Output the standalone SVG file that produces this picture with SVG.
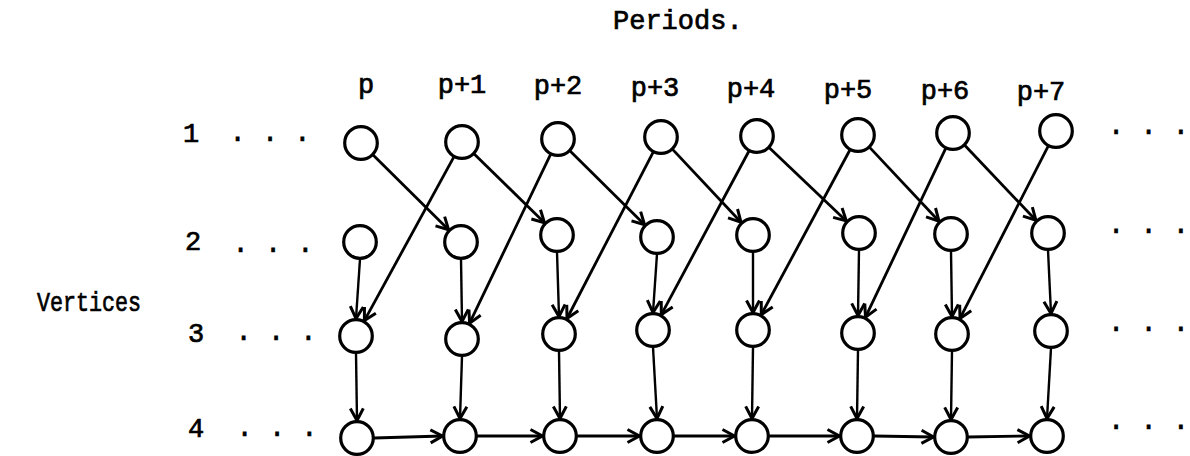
<svg xmlns="http://www.w3.org/2000/svg" width="1190" height="456" viewBox="0 0 1190 456">
<style>
.n{fill:#fff;stroke:#000;stroke-width:3.2}
.e{fill:none;stroke:#000;stroke-width:2.8;marker-end:url(#ah)}
.v{stroke-width:2.4}
.t{font-family:"Liberation Mono","Courier New",monospace;font-size:27px;fill:#000;stroke:#000;stroke-width:0.7}
.c{text-anchor:middle}
</style>
<defs>
<marker id="ah" markerUnits="userSpaceOnUse" markerWidth="20" markerHeight="20" refX="0" refY="0" viewBox="-14 -10 18 20" orient="auto">
<path d="M-12,-6.5 L0,0 L-12,6.5" fill="none" stroke="#000" stroke-width="3" stroke-linejoin="miter"/>
</marker>
</defs>
<rect width="1190" height="456" fill="#fff"/>
<g id="labels" class="t">
<text x="613" y="29">Periods.</text>
<text x="37" y="311" textLength="104" lengthAdjust="spacingAndGlyphs">Vertices</text>
<text class="c" x="366" y="93">p</text>
<text class="c" x="462" y="93">p+1</text>
<text class="c" x="558" y="94">p+2</text>
<text class="c" x="655" y="96">p+3</text>
<text class="c" x="751" y="97">p+4</text>
<text class="c" x="848" y="98">p+5</text>
<text class="c" x="945" y="99">p+6</text>
<text class="c" x="1041" y="100">p+7</text>
<text class="c" x="191" y="142">1</text>
<text class="c" x="193" y="250">2</text>
<text class="c" x="196" y="342">3</text>
<text class="c" x="196" y="437">4</text>
<text class="c" x="270" y="141">. . .</text>
<text class="c" x="273" y="252">. . .</text>
<text class="c" x="276" y="340">. . .</text>
<text class="c" x="277" y="436">. . .</text>
<text x="1189" y="134" text-anchor="end">. . .</text>
<text x="1189" y="233" text-anchor="end">. . .</text>
<text x="1189" y="331" text-anchor="end">. . .</text>
<text x="1189" y="429" text-anchor="end">. . .</text>
</g>
<g id="connectors">
<line class="e" x1="373.1" y1="155.0" x2="448.6" y2="229.7"/>
<line class="e" x1="474.2" y1="153.9" x2="544.5" y2="222.8"/>
<line class="e" x1="570.1" y1="151.0" x2="644.6" y2="224.7"/>
<line class="e" x1="672.6" y1="149.4" x2="741.0" y2="222.2"/>
<line class="e" x1="769.3" y1="147.7" x2="846.3" y2="220.9"/>
<line class="e" x1="869.6" y1="147.4" x2="939.0" y2="221.2"/>
<line class="e" x1="964.7" y1="145.3" x2="1035.9" y2="220.3"/>
<line class="e" x1="453.9" y1="156.9" x2="364.4" y2="320.6"/>
<line class="e" x1="550.6" y1="154.3" x2="469.6" y2="323.2"/>
<line class="e" x1="653.2" y1="152.1" x2="567.0" y2="318.5"/>
<line class="e" x1="749.0" y1="151.0" x2="661.3" y2="314.6"/>
<line class="e" x1="849.9" y1="150.0" x2="761.3" y2="314.6"/>
<line class="e" x1="945.7" y1="148.4" x2="865.5" y2="317.2"/>
<line class="e" x1="1048.2" y1="146.1" x2="960.0" y2="318.4"/>
<line class="e v" x1="360" y1="259" x2="356" y2="318.5"/>
<line class="e v" x1="461" y1="259" x2="462" y2="321.5"/>
<line class="e v" x1="557" y1="252" x2="559" y2="316.5"/>
<line class="e v" x1="657" y1="254" x2="653" y2="312.5"/>
<line class="e v" x1="753" y1="252" x2="753" y2="312.5"/>
<line class="e v" x1="859" y1="250" x2="858" y2="315.5"/>
<line class="e v" x1="951" y1="251" x2="952" y2="316.5"/>
<line class="e v" x1="1048" y1="250" x2="1051" y2="313.5"/>
<line class="e v" x1="356" y1="353" x2="357" y2="420.5"/>
<line class="e v" x1="462" y1="356" x2="460" y2="418.5"/>
<line class="e v" x1="559" y1="351" x2="560" y2="418.5"/>
<line class="e v" x1="653" y1="347" x2="657" y2="418.5"/>
<line class="e v" x1="753" y1="347" x2="752" y2="418.5"/>
<line class="e v" x1="858" y1="350" x2="857" y2="418.5"/>
<line class="e v" x1="952" y1="351" x2="951" y2="419.5"/>
<line class="e v" x1="1051" y1="348" x2="1047" y2="418.5"/>
<line class="e" x1="374" y1="438" x2="442.5" y2="436"/>
<line class="e" x1="477" y1="436" x2="542.5" y2="436"/>
<line class="e" x1="577" y1="436" x2="639.5" y2="436"/>
<line class="e" x1="674" y1="436" x2="734.5" y2="436"/>
<line class="e" x1="769" y1="436" x2="839.5" y2="436"/>
<line class="e" x1="874" y1="436" x2="933.5" y2="437"/>
<line class="e" x1="968" y1="437" x2="1029.5" y2="436"/>
</g>
<g id="v1p0"><circle class="n" cx="361" cy="143" r="16.3"/></g>
<g id="v1p1"><circle class="n" cx="462" cy="142" r="16.3"/></g>
<g id="v1p2"><circle class="n" cx="558" cy="139" r="16.3"/></g>
<g id="v1p3"><circle class="n" cx="661" cy="137" r="16.3"/></g>
<g id="v1p4"><circle class="n" cx="757" cy="136" r="16.3"/></g>
<g id="v1p5"><circle class="n" cx="858" cy="135" r="16.3"/></g>
<g id="v1p6"><circle class="n" cx="953" cy="133" r="16.3"/></g>
<g id="v1p7"><circle class="n" cx="1056" cy="131" r="16.3"/></g>
<g id="v2p0"><circle class="n" cx="360" cy="242" r="16.3"/></g>
<g id="v2p1"><circle class="n" cx="461" cy="242" r="16.3"/></g>
<g id="v2p2"><circle class="n" cx="557" cy="235" r="16.3"/></g>
<g id="v2p3"><circle class="n" cx="657" cy="237" r="16.3"/></g>
<g id="v2p4"><circle class="n" cx="753" cy="235" r="16.3"/></g>
<g id="v2p5"><circle class="n" cx="859" cy="233" r="16.3"/></g>
<g id="v2p6"><circle class="n" cx="951" cy="234" r="16.3"/></g>
<g id="v2p7"><circle class="n" cx="1048" cy="233" r="16.3"/></g>
<g id="v3p0"><circle class="n" cx="356" cy="336" r="16.3"/></g>
<g id="v3p1"><circle class="n" cx="462" cy="339" r="16.3"/></g>
<g id="v3p2"><circle class="n" cx="559" cy="334" r="16.3"/></g>
<g id="v3p3"><circle class="n" cx="653" cy="330" r="16.3"/></g>
<g id="v3p4"><circle class="n" cx="753" cy="330" r="16.3"/></g>
<g id="v3p5"><circle class="n" cx="858" cy="333" r="16.3"/></g>
<g id="v3p6"><circle class="n" cx="952" cy="334" r="16.3"/></g>
<g id="v3p7"><circle class="n" cx="1051" cy="331" r="16.3"/></g>
<g id="v4p0"><circle class="n" cx="357" cy="438" r="16.3"/></g>
<g id="v4p1"><circle class="n" cx="460" cy="436" r="16.3"/></g>
<g id="v4p2"><circle class="n" cx="560" cy="436" r="16.3"/></g>
<g id="v4p3"><circle class="n" cx="657" cy="436" r="16.3"/></g>
<g id="v4p4"><circle class="n" cx="752" cy="436" r="16.3"/></g>
<g id="v4p5"><circle class="n" cx="857" cy="436" r="16.3"/></g>
<g id="v4p6"><circle class="n" cx="951" cy="437" r="16.3"/></g>
<g id="v4p7"><circle class="n" cx="1047" cy="436" r="16.3"/></g>
</svg>
